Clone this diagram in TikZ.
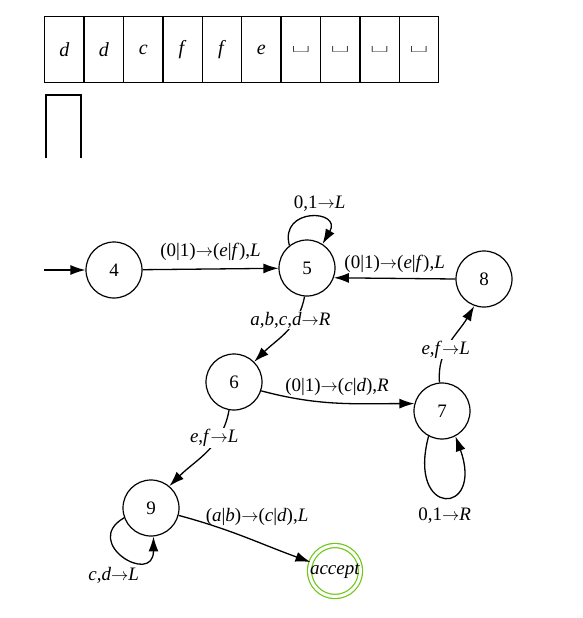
\documentclass[tikz,border=0pt]{standalone}
\usepackage{fontspec}
\usepackage{graphicx}
\setmainfont{Liberation Serif}
\newfontfamily\lmfont{Latin Modern Roman}
\usetikzlibrary{arrows.meta,positioning}

\newcommand{\vr}[1]{\textit{#1}}
\newcommand{\arr}{$\rightarrow$}
\newcommand{\blank}{\raisebox{-4pt}{\scalebox{1.5}[0.75]{\lmfont\bfseries\fontsize{22}{22}\selectfont\textvisiblespace}}}
\definecolor{accgreen}{RGB}{108,200,20}

\tikzset{
  cell/.style={draw,line width=1.4pt,minimum width=39.4pt,minimum height=66pt,inner sep=0pt,anchor=north west,font=\fontsize{20}{22}\selectfont},
  state/.style={circle,draw,line width=1.2pt,minimum size=56pt,inner sep=0pt,font=\fontsize{19}{21}\selectfont},
  accst/.style={circle,draw=accgreen,line width=1.2pt,double=white,double distance=3pt,minimum size=51pt,inner sep=0pt},
  trans/.style={-{Latex[length=15pt,width=10pt]},line width=1.3pt},
  lbl/.style={font=\fontsize{19}{21}\selectfont,inner sep=1pt}
}

\begin{document}
\begin{tikzpicture}[x=1pt,y=-1pt]
  \useasboundingbox (0,0) rectangle (582,618);
  % tape
  \foreach \s [count=\i from 0] in {d,d,c,f,f,e}
    \node[cell] (c\i) at ({44+39.4*\i},16) {\vr{\s}};
  \foreach \i in {6,...,9}
    \node[cell] (c\i) at ({44+39.4*\i},16) {\blank};
  % head
  \draw[line width=1.4pt] (46,158) -- (46,95) -- (81,95) -- (81,158);

  % states
  \node[state] (q4) at (114,270) {4};
  \node[state] (q5) at (307,268) {5};
  \node[state] (q8) at (484,279) {8};
  \node[state] (q6) at (234,382) {6};
  \node[state] (q7) at (442,411) {7};
  \node[state] (q9) at (151,508) {9};
  \node[accst,label={center:\fontsize{19}{21}\selectfont\vr{accept}}] (acc) at (335,571) {};
  \coordinate (start) at (44,270);

  % transitions (y axis points down, so polar angles are mirrored)
  \draw[trans] (start) -- (q4);
  \draw[trans] (q4) -- node[lbl,above=7pt] {(0|1)\arr(\vr{e}|\vr{f}),\vr{L}} (q5);
  \draw[trans] (q5.128) .. controls +(-105:40) and +(-60:40) .. node[lbl,above=4pt,xshift=10pt] {0,1\arr\vr{L}} (q5.57);
  \draw[trans] (q8.west) -- node[lbl,above=4pt] {(0|1)\arr(\vr{e}|\vr{f}),\vr{L}} (q5.-20);
  \draw[trans] (q5.-95) to[out=-100,in=45] node[lbl,pos=0.3,fill=white,xshift=-5pt] {\vr{a},\vr{b},\vr{c},\vr{d}\arr\vr{R}} (q6.45);
  \draw[trans] (q6.-18) to[out=-15,in=180] node[lbl,above=6pt,pos=0.5] {(0|1)\arr(\vr{c}|\vr{d}),\vr{R}} (q7.165);
  \draw[trans] (q7.95) to[out=95,in=-120] node[lbl,pos=0.4,fill=white] {\vr{e},\vr{f}\arr\vr{L}} (q8.-110);
  \draw[trans] (q7.-118) .. controls +(105:85) and +(70:85) .. node[lbl,below=9pt] {0,1\arr\vr{R}} (q7.-62);
  \draw[trans] (q6.-100) to[out=-100,in=45] node[lbl,pos=0.3,fill=white,xshift=-4pt] {\vr{e},\vr{f}\arr\vr{L}} (q9.50);
  \draw[trans] (q9.200) .. controls +(150:50) and +(90:50) .. node[lbl,below left=10pt and -18pt] {\vr{c},\vr{d}\arr\vr{L}} (q9.-85);
  \draw[trans] (q9.-15) to[out=-15,in=160] node[lbl,pos=0.6,above=14pt] {(\vr{a}|\vr{b})\arr(\vr{c}|\vr{d}),\vr{L}} (acc);
\end{tikzpicture}
\end{document}
